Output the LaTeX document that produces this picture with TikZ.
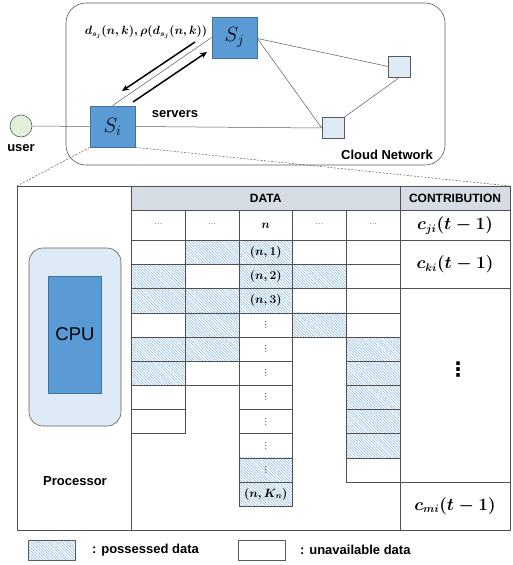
\documentclass[tikz,border=0pt]{standalone}
\usepackage[no-math]{fontspec}
\setmainfont{Liberation Sans}
\newfontfamily\symfont{DejaVu Sans}
\usetikzlibrary{arrows.meta,patterns.meta}

\definecolor{srvfill}{RGB}{91,155,213}
\definecolor{srvdraw}{RGB}{65,113,156}
\definecolor{paleblue}{RGB}{222,235,247}
\definecolor{palegreen}{RGB}{226,240,217}
\definecolor{hdrfill}{RGB}{214,220,228}
\definecolor{gridgray}{RGB}{80,80,80}
\definecolor{hatchblue}{RGB}{130,180,226}
\definecolor{edgegray}{RGB}{90,90,90}

% bold math in its own group, so the math version reset stays inside the node
\newcommand{\bmath}[1]{{\boldmath$#1$}}
% single-glyph ellipses
\newcommand{\hdots}{{\symfont\color{gray}\fontsize{8}{10}\selectfont ⋯}}
\newcommand{\vdotsmall}{{\symfont\fontsize{8}{10}\selectfont ⋮}}

\tikzset{
  server/.style={draw=srvdraw, fill=srvfill, line width=0.8pt, minimum width=45pt,
    minimum height=41pt, inner sep=0pt, font=\fontsize{21}{25}\selectfont},
  relay/.style={draw=edgegray, fill=paleblue, line width=0.6pt, minimum width=22pt,
    minimum height=21pt, inner sep=0pt},
  link/.style={draw=edgegray, line width=0.5pt},
  flow/.style={draw=black, line width=1.5pt, -{Stealth[length=7pt,width=6pt]}},
  zoomline/.style={draw=edgegray, line width=0.5pt, dash pattern=on 2pt off 1.5pt},
  lbl/.style={font=\bfseries\fontsize{13}{15}\selectfont, inner sep=0pt},
  mathlbl/.style={font=\fontsize{11.5}{13}\selectfont, inner sep=0pt},
  cell/.style={draw=gridgray, line width=0.7pt, minimum width=53.7pt,
    minimum height=24.15pt, inner sep=0pt, outer sep=0pt, anchor=north west,
    font=\fontsize{12}{14}\selectfont},
  held/.style={pattern={Lines[angle=-45,distance=2pt,line width=0.5pt]},
    pattern color=hatchblue},
  open/.style={},
  contrib/.style={draw=gridgray, line width=0.7pt, minimum width=110pt,
    inner sep=0pt, outer sep=0pt, anchor=north west,
    font=\fontsize{16}{19}\selectfont},
  hdr/.style={draw=gridgray, fill=hdrfill, line width=0.7pt, minimum height=24.5pt,
    inner sep=0pt, outer sep=0pt, anchor=north west,
    font=\bfseries\fontsize{12}{15}\selectfont},
}

\begin{document}
\begin{tikzpicture}[x=1pt,y=-1pt]
\useasboundingbox (0,0) rectangle (512,565);

% ---- cloud network ----
\draw[edgegray, line width=0.6pt, rounded corners=20pt] (66,3) rectangle (445,165);

\node[server] (Sj) at (234.5,37.5) {$S_j$};
\node[server] (Si) at (112.5,126.5) {$S_i$};
\node[relay] (r1) at (399.5,66.5) {};
\node[relay] (r2) at (333,128) {};
\node[circle, draw=edgegray, fill=palegreen, line width=0.6pt, minimum size=22pt,
  inner sep=0pt] (user) at (21,126) {};

\draw[link] (user.east) -- (Si.west);
\draw[link] (Si.east) -- (r2.west);
\draw[link] (Si.north) -- (Sj.west);
\draw[link] ([yshift=-1pt]Sj.east) -- (r1.west);
\draw[link] ([yshift=-1pt]Sj.east) -- (r2.west);
\draw[link] (r2.north east) -- (r1.south);

\coordinate (downtail) at (195,42);
\coordinate (downhead) at (122,91);
\coordinate (uptail) at (133,102);
\coordinate (uphead) at (207,52);
\draw[flow] (downtail) -- (downhead);
\draw[flow] (uptail) -- (uphead);

\node[mathlbl] (dsj) at (146,32) {\bmath{d_{s_j}(n,k),\rho(d_{s_j}(n,k))}};
\node[lbl] (userlbl) at (21,148) {user};
\node[lbl] (srvlbl) at (175,114) {servers};
\node[lbl] (cloudlbl) at (387,155) {Cloud Network};

% ---- zoomed server frame ----
\coordinate (tblNW) at (17,186);
\coordinate (tblNE) at (510,186);
\coordinate (tblSE) at (510,530);
\draw[zoomline] (Si.south west) -- (tblNW);
\draw[zoomline] (Si.south east) -- (tblNE);

% processor column
\node[draw=edgegray, fill=paleblue, line width=0.6pt, rounded corners=14pt,
  minimum width=92pt, minimum height=178pt, inner sep=0pt] (bay) at (75,337) {};
\node[draw=srvdraw, fill=srvfill, line width=0.7pt, minimum width=53pt,
  minimum height=117pt, inner sep=0pt, font=\fontsize{18.5}{22}\selectfont]
  (cpu) at (75,334.5) {CPU};
\node[lbl] (proclbl) at (75,481) {Processor};

% headers
\node[hdr, minimum width=268.5pt] (datahdr) at (131.5,186) {DATA};
\node[hdr, minimum width=110pt] (contribhdr) at (400,186) {CONTRIBUTION};

% index row
\foreach \c/\t in {1/{\hdots}, 2/{\hdots}, 3/{\bmath{n}}, 4/{\hdots}, 5/{\hdots}}
  \node[cell, minimum height=30pt] (idx\c) at ({131.5+(\c-1)*53.7},210.5) {\t};

% data pieces per column
\foreach \c/\r/\s/\t in {
    1/1/open/{}, 1/2/held/{}, 1/3/held/{}, 1/4/open/{}, 1/5/held/{}, 1/6/held/{},
    1/7/open/{}, 1/8/open/{},
    2/1/held/{}, 2/2/open/{}, 2/3/held/{}, 2/4/held/{}, 2/5/held/{}, 2/6/open/{},
    3/1/held/{\bmath{(n,1)}}, 3/2/held/{\bmath{(n,2)}},
    3/3/held/{\bmath{(n,3)}},
    3/4/open/{\vdotsmall}, 3/5/open/{\vdotsmall}, 3/6/open/{\vdotsmall},
    3/7/open/{\vdotsmall}, 3/8/open/{\vdotsmall}, 3/9/open/{\vdotsmall},
    3/10/held/{\vdotsmall}, 3/11/held/{\bmath{(n,K_n)}},
    4/1/open/{}, 4/2/held/{}, 4/3/open/{}, 4/4/held/{},
    5/1/open/{}, 5/2/open/{}, 5/3/open/{}, 5/4/open/{}, 5/5/held/{}, 5/6/held/{},
    5/7/held/{}, 5/8/held/{}, 5/9/held/{}, 5/10/open/{}}
  \node[cell, \s] (d\c-\r) at ({131.5+(\c-1)*53.7},{240.5+(\r-1)*24.15}) {\t};

% contribution column
\node[contrib, minimum height=30pt] (cji) at (400,210.5) {\bmath{c_{ji}(t-1)}};
\node[contrib, minimum height=48.3pt] (cki) at (400,240.5) {\bmath{c_{ki}(t-1)}};
\node[contrib, minimum height=193.3pt] (cmid) at (400,288.8) {};
\node[contrib, minimum height=47.9pt] (cmi) at (400,482.1) {\bmath{c_{mi}(t-1)}};
\node[font=\symfont\bfseries\fontsize{20}{20}\selectfont, inner sep=0pt]
  (cdots) at (458,369.5) {⋮};

% frame
\draw[gridgray, line width=0.7pt] (tblNW) rectangle (tblSE);
\draw[gridgray, line width=0.7pt] (datahdr.north west) -- (131.5,530);

% legend
\node[draw=edgegray, held, line width=0.6pt, minimum width=47pt, minimum height=20pt,
  inner sep=0pt] (keyheld) at (51.5,550) {};
\node[lbl, anchor=west] (keyheldlbl) at (92,550) {: possessed data};
\node[draw=edgegray, line width=0.6pt, minimum width=47pt, minimum height=20pt,
  inner sep=0pt] (keyopen) at (261.5,550) {};
\node[lbl, anchor=west] (keyopenlbl) at (300,550) {: unavailable data};
\end{tikzpicture}
\end{document}
